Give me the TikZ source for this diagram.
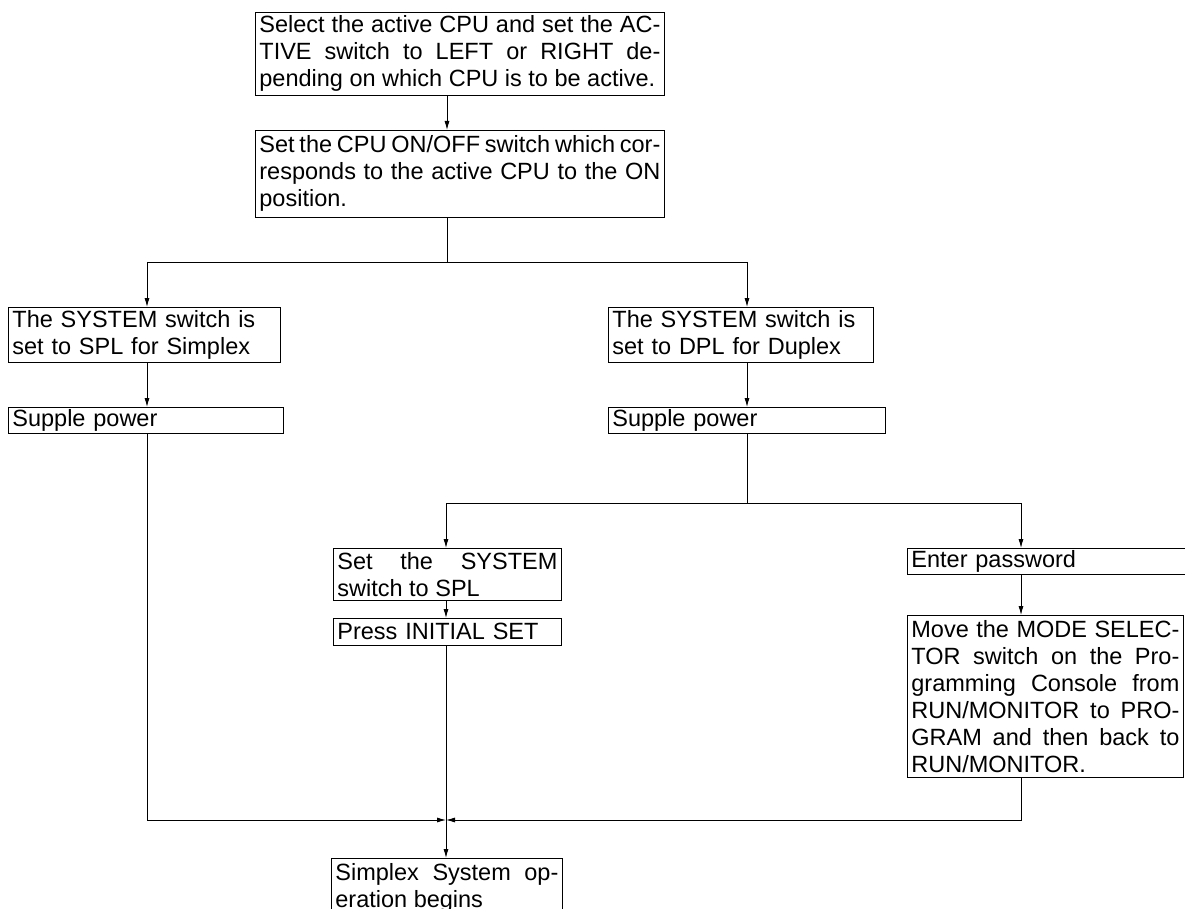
\documentclass[tikz,border=0pt]{standalone}
\usepackage{fontspec}
\setmainfont{Liberation Sans}
\usetikzlibrary{arrows.meta}

\begin{document}
\begin{tikzpicture}[
  x=1pt, y=-1pt,
  line width=0.8pt,
  font=\fontsize{23.5}{27}\selectfont,
  stepbox/.style={draw, anchor=north west, inner xsep=4pt, inner ysep=1pt,
                  align=justify},
  arr/.style={-{Latex[length=9pt,width=5pt]}}
]
\useasboundingbox (0,0) rectangle (1185,909);
\clip (0,0) rectangle (1185,909);

% start
\node[stepbox, text width=401pt, minimum height=83pt] (sel) at (255,12)
  {Select the active CPU and set the AC-\linebreak TIVE switch to LEFT or RIGHT de-\linebreak pending on which CPU is to be active.};
\node[stepbox, text width=401pt, minimum height=87pt] (cpuon) at (255,130)
  {Set the CPU ON/OFF switch which cor-\linebreak responds to the active CPU to the ON\linebreak position.};

% simplex / duplex
\node[stepbox, align=left, text width=264pt, minimum height=55pt] (splsys) at (8,307)
  {The SYSTEM switch is\\set to SPL for Simplex};
\node[stepbox, align=left, text width=257pt, minimum height=55pt] (dplsys) at (608,307)
  {The SYSTEM switch is\\set to DPL for Duplex};
\node[stepbox, align=left, text width=267pt, minimum height=26pt] (pwrL) at (8,407)
  {Supple power};
\node[stepbox, align=left, text width=269pt, minimum height=26pt] (pwrR) at (608,407)
  {Supple power};

% duplex branches
\node[stepbox, text width=220pt, minimum height=52pt] (setspl) at (333,548)
  {Set the SYSTEM\linebreak switch to SPL};
\node[stepbox, align=left, text width=220pt, minimum height=27pt] (initset) at (333,618)
  {Press INITIAL SET};
\node[stepbox, align=left, text width=277pt, minimum height=26pt] (passwd) at (907,548)
  {Enter password};
\node[stepbox, text width=268pt, minimum height=162pt] (modesel) at (907,615)
  {Move the MODE SELEC-\linebreak TOR switch on the Pro-\linebreak gramming Console from\linebreak RUN/MONITOR to PRO-\linebreak GRAM and then back to\linebreak RUN/MONITOR.};

% end
\node[stepbox, text width=223pt, minimum height=60pt] (simplex) at (331,858)
  {Simplex System op-\linebreak eration begins};

\coordinate (split) at (447,262);
\coordinate (splitL) at (147,262);
\coordinate (splitR) at (747,262);
\coordinate (dsplit) at (747,503);
\coordinate (dsplitL) at (446,503);
\coordinate (dsplitR) at (1021,503);
\coordinate (merge) at (446,820);

\draw[arr] (sel.south -| split) -- (cpuon.north -| split);
\draw (cpuon.south -| split) -- (split);
\draw (splitL) -- (splitR);
\draw[arr] (splitL) -- (splsys.north -| splitL);
\draw[arr] (splitR) -- (dplsys.north -| splitR);
\draw[arr] (splsys.south -| splitL) -- (pwrL.north -| splitL);
\draw[arr] (dplsys.south -| splitR) -- (pwrR.north -| splitR);

\draw (pwrR.south -| dsplit) -- (dsplit);
\draw (dsplitL) -- (dsplitR);
\draw[arr] (dsplitL) -- (setspl.north -| dsplitL);
\draw[arr] (dsplitR) -- (passwd.north -| dsplitR);
\draw[arr] (setspl.south -| dsplitL) -- (initset.north -| dsplitL);
\draw[arr] (passwd.south -| dsplitR) -- (modesel.north -| dsplitR);

\draw[arr] (pwrL.south -| splitL) |- (merge);
\draw[arr] (modesel.south -| dsplitR) |- (merge);
\draw[arr] (initset.south -| merge) -- (simplex.north -| merge);
\end{tikzpicture}
\end{document}
